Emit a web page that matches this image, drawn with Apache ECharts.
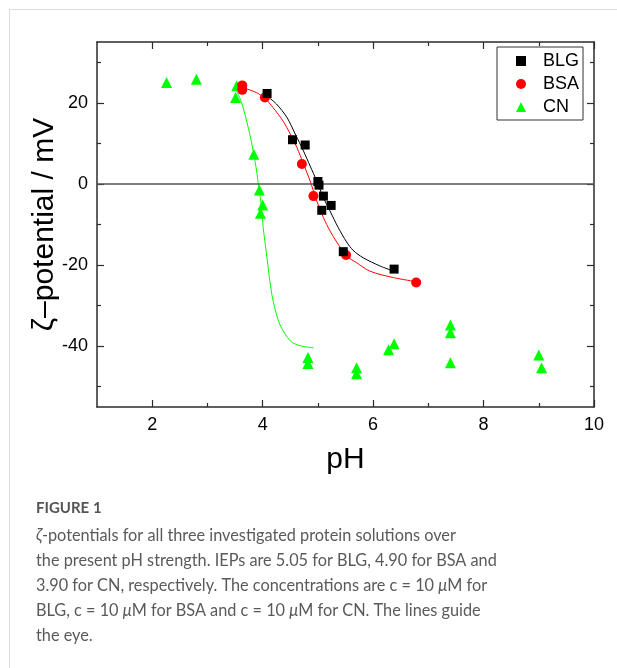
<!DOCTYPE html>
<html>
<head>
<meta charset="utf-8">
<script src="https://cdn.jsdelivr.net/npm/echarts@6/dist/echarts.min.js"></script>
<style>
    html, body { margin: 0; padding: 0; background: #fff; overflow: hidden; }
    #frame { position: absolute; left: 9px; top: 9px; width: 608px; height: 659px; border-left: 1px solid #dcdcdc; border-top: 1px solid #dcdcdc; }
    #chart { position: absolute; left: 0; top: 0; width: 617px; height: 668px; }
</style>
</head>
<body>
<div id="frame"></div>
<div id="chart"></div>
<script>
// ============================================
// zeta potential vs pH (BLG / BSA / CN)
// ============================================

// measured points
const blgPH   = [4.08, 4.54, 4.77, 5.00, 5.02, 5.10, 5.24, 5.07, 5.46, 6.38];
const blgZeta = [22.3, 10.9, 9.6, 0.6, -0.3, -3.0, -5.3, -6.5, -16.7, -21.0];

const bsaPH   = [3.63, 3.63, 4.04, 4.71, 4.92, 5.51, 6.78];
const bsaZeta = [24.3, 23.2, 21.3, 4.9, -3.0, -17.5, -24.3];

const cnPH   = [2.26, 2.80, 3.53, 3.51, 3.84, 3.94, 4.00, 3.96, 4.82, 4.82, 5.70, 5.70, 6.28, 6.38, 7.40, 7.40, 7.40, 9.00, 9.05];
const cnZeta = [25.0, 25.8, 24.2, 21.3, 7.3, -1.5, -5.2, -7.2, -42.8, -44.3, -45.3, -46.8, -40.9, -39.4, -34.8, -36.7, -44.1, -42.2, -45.3];

// guide lines
const blgFitPH   = [4.07, 4.25, 4.44, 4.59, 4.74, 4.86, 4.98, 5.10, 5.22, 5.37, 5.52, 5.64, 5.82, 6.12, 6.37];
const blgFitZeta = [21.8, 19.7, 16.4, 12.3, 8.1, 4.4, 0.7, -3.4, -6.7, -10.8, -14.3, -16.4, -18.2, -20.2, -21.5];

const bsaFitPH   = [3.63, 3.89, 4.04, 4.19, 4.37, 4.50, 4.62, 4.74, 4.86, 4.98, 5.10, 5.22, 5.34, 5.52, 5.70, 5.94, 6.37, 6.78];
const bsaFitZeta = [23.8, 22.5, 21.1, 18.8, 15.5, 12.3, 9.0, 4.9, 0.7, -4.2, -8.3, -11.6, -14.3, -17.8, -19.4, -21.5, -23.1, -24.1];

const cnFitPH   = [3.53, 3.62, 3.71, 3.78, 3.84, 3.89, 3.93, 3.98, 4.01, 4.04, 4.09, 4.13, 4.19, 4.31, 4.50, 4.68, 4.92];
const cnFitZeta = [22.9, 20.0, 15.5, 11.4, 7.3, 3.2, -0.9, -5.8, -10.8, -14.1, -19.5, -23.9, -28.9, -34.6, -38.7, -39.9, -40.4];

// axes
const xMajor = [2, 4, 6, 8, 10];
const xMinor = [3, 5, 7, 9];
const yMajor = [-40, -20, 0, 20];
const yMinor = [-50, -30, -10, 10, 30];

const captionLines = [
    '{i|ζ}-potentials for all three investigated protein solutions over',
    'the present pH strength. IEPs are 5.05 for BLG, 4.90 for BSA and',
    '3.90 for CN, respectively. The concentrations are c = 10 {i|μ}M for',
    'BLG, c = 10 {i|μ}M for BSA and c = 10 {i|μ}M for CN. The lines guide',
    'the eye.'
];

const FONT = 'Liberation Sans, Arial, sans-serif';
const CAP_FONT = 'Lato, sans-serif';
const AXIS_COLOR = '#2b2b2b';

const pairs = (xs, ys) => xs.map((x, i) => [x, ys[i]]);

function frameAxis(pos, min, max, ticks, len, withLine, withLabel) {
    return {
        type: 'value',
        position: pos,
        min: min,
        max: max,
        axisLine: { show: withLine, onZero: false, lineStyle: { color: AXIS_COLOR, width: 1.5 } },
        axisTick: { show: true, inside: true, length: len, customValues: ticks, lineStyle: { color: AXIS_COLOR, width: 1.2 } },
        axisLabel: withLabel
            ? { show: true, customValues: ticks, fontSize: 18, color: '#000', fontFamily: FONT, margin: 9 }
            : { show: false },
        splitLine: { show: false }
    };
}

const chart = echarts.init(document.getElementById('chart'));

const xBottom = frameAxis('bottom', 1, 10, xMajor, 7, true, true);
xBottom.name = 'pH';
xBottom.nameLocation = 'middle';
xBottom.nameGap = 38;
xBottom.nameTextStyle = { fontSize: 30, color: '#000', fontFamily: FONT };

const yLeft = frameAxis('left', -55, 35, yMajor, 7, true, true);
yLeft.name = 'ζ–potential / mV';
yLeft.nameLocation = 'middle';
yLeft.nameGap = 37;
yLeft.nameMoveOverlap = false;
yLeft.nameTextStyle = { fontSize: 30, color: '#000', fontFamily: FONT };

const captionGraphics = [{
    type: 'text',
    left: 36,
    top: 501,
    style: { text: 'FIGURE 1', font: 'bold 15px ' + CAP_FONT, fill: '#555' }
}].concat(captionLines.map((line, i) => ({
    type: 'text',
    left: 36,
    top: 528 + i * 25,
    style: {
        text: line,
        fontSize: 16.3,
        fontFamily: CAP_FONT,
        fill: '#5a5a5a',
        rich: { i: { fontStyle: 'italic', fontSize: 16.3, fontFamily: CAP_FONT, fill: '#5a5a5a' } }
    }
})));

chart.setOption({
    animation: false,
    grid: { left: 97, top: 42, width: 497, height: 365, containLabel: false },
    legend: {
        data: ['BLG', 'BSA', 'CN'],
        orient: 'vertical',
        left: 497,
        top: 47,
        padding: [5, 4, 4, 19],
        itemWidth: 10,
        itemHeight: 10,
        itemGap: 5,
        borderColor: '#333',
        borderWidth: 1,
        selectedMode: false,
        textStyle: { fontSize: 18, lineHeight: 18, color: '#000', fontFamily: FONT, padding: [0, 0, 0, 12] }
    },
    xAxis: [
        xBottom,
        frameAxis('bottom', 1, 10, xMinor, 4, false, false),
        frameAxis('top', 1, 10, xMajor, 7, true, false),
        frameAxis('top', 1, 10, xMinor, 4, false, false)
    ],
    yAxis: [
        yLeft,
        frameAxis('left', -55, 35, yMinor, 4, false, false),
        frameAxis('right', -55, 35, yMajor, 7, true, false),
        frameAxis('right', -55, 35, yMinor, 4, false, false)
    ],
    series: [
        {
            name: 'BLG guide', type: 'line', data: pairs(blgFitPH, blgFitZeta),
            smooth: 0.3, showSymbol: false, silent: true, z: 2,
            lineStyle: { color: '#000', width: 1 },
            markLine: {
                silent: true, symbol: 'none', label: { show: false },
                lineStyle: { color: '#555', width: 1.5, type: 'solid' },
                data: [{ yAxis: 0 }]
            }
        },
        {
            name: 'BSA guide', type: 'line', data: pairs(bsaFitPH, bsaFitZeta),
            smooth: 0.3, showSymbol: false, silent: true, z: 2,
            lineStyle: { color: '#ff0000', width: 1 }
        },
        {
            name: 'CN guide', type: 'line', data: pairs(cnFitPH, cnFitZeta),
            smooth: 0.3, showSymbol: false, silent: true, z: 2,
            lineStyle: { color: '#00ff00', width: 1 }
        },
        {
            name: 'BLG', type: 'scatter', data: pairs(blgPH, blgZeta),
            symbol: 'rect', symbolSize: 9, z: 5,
            itemStyle: { color: '#000', opacity: 1 }
        },
        {
            name: 'BSA', type: 'scatter', data: pairs(bsaPH, bsaZeta),
            symbol: 'circle', symbolSize: 10, z: 4,
            itemStyle: { color: '#ff0000', opacity: 1 }
        },
        {
            name: 'CN', type: 'scatter', data: pairs(cnPH, cnZeta),
            symbol: 'triangle', symbolSize: 11, z: 3,
            itemStyle: { color: '#00ff00', opacity: 1 }
        }
    ],
    graphic: captionGraphics
});
</script>
</body>
</html>
